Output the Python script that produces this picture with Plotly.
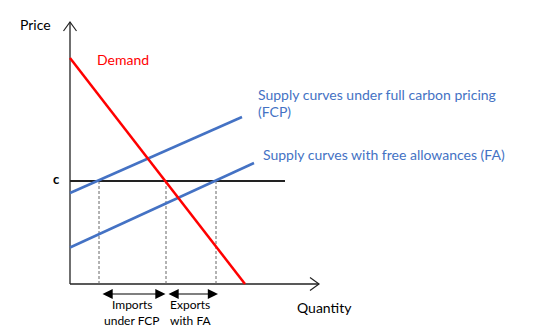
import plotly.graph_objects as go

# ---- data (quantity, price units) ----
demand_q = [0.0, 7.0]
demand_p = [9.04, 0.0]
fcp_q = [0.0, 6.88]
fcp_p = [3.64, 6.68]
fa_q = [0.0, 7.36]
fa_p = [1.46, 4.84]
c_price = 4.12
c_q = [0.0, 8.6]
dashed_q = [1.16, 3.84, 5.84]
axis_x_end = 9.96
axis_y_end = 10.48

W, H = 536, 333
PX = 25.0          # pixels per data unit
X0, Y0 = 70, 284   # pixel position of origin

BLUE = "#4472C4"
RED = "#FF0000"
FONT = "Lato"

fig = go.Figure()

def line(xs, ys, color, width, dash="solid"):
    fig.add_trace(go.Scatter(x=xs, y=ys, mode="lines",
                             line=dict(color=color, width=width, dash=dash),
                             hoverinfo="skip", showlegend=False))

# axes
line([0, 0], [0, axis_y_end], "#222222", 1.3)
line([0, axis_x_end], [0, 0], "#222222", 1.3)
# open arrowheads
line([-0.26, 0, 0.26], [axis_y_end - 0.36, axis_y_end, axis_y_end - 0.36], "#222222", 1.2)
line([axis_x_end - 0.36, axis_x_end, axis_x_end - 0.36], [0.26, 0, -0.26], "#222222", 1.2)

# dashed verticals
for q in dashed_q:
    line([q, q], [0, c_price], "#666666", 1, "3px,2px")

# price line c
line(c_q, [c_price, c_price], "#222222", 2)

# supply curves and demand
line(fcp_q, fcp_p, BLUE, 2.5)
line(fa_q, fa_p, BLUE, 2.5)
line(demand_q, demand_p, RED, 2.5)

annotations = []

def txt(text, px, py, color="black", size=14, xanchor="center"):
    annotations.append(dict(text=text, x=px / W, y=1 - py / H, xref="paper", yref="paper",
                            showarrow=False, xanchor=xanchor, yanchor="middle",
                            font=dict(family=FONT, size=size, color=color)))

# double arrows below x axis
arrow_y = -10 / PX
for a, b in [(dashed_q[0] + 0.08, dashed_q[1] - 0.02), (dashed_q[1] + 0.04, dashed_q[2] + 0.08)]:
    annotations.append(dict(x=b, y=arrow_y, ax=a, ay=arrow_y, xref="x", yref="y",
                            axref="x", ayref="y", showarrow=True, text="",
                            arrowhead=2, startarrowhead=2, arrowside="end+start",
                            arrowsize=1.7, startarrowsize=1.7, arrowwidth=1.2, arrowcolor="black"))

txt("Price", 35, 25)
txt("Quantity", 324, 307)
txt("<b>c</b>", 56, 179, size=13)
txt("Demand", 123, 59, color=RED)
txt("Supply curves under full carbon pricing", 256, 94, color=BLUE, xanchor="left")
txt("(FCP)", 256, 112, color=BLUE, xanchor="left")
txt("Supply curves with free allowances (FA)", 261, 154, color=BLUE, xanchor="left")
txt("Imports", 132, 304, size=12)
txt("under FCP", 132, 320, size=12)
txt("Exports", 190, 304, size=12)
txt("with FA", 190, 320, size=12)

fig.update_layout(
    width=W, height=H,
    margin=dict(l=0, r=0, t=0, b=0),
    paper_bgcolor="white", plot_bgcolor="white",
    xaxis=dict(range=[-X0 / PX, (W - X0) / PX], visible=False, fixedrange=True),
    yaxis=dict(range=[(Y0 - H) / PX, Y0 / PX], visible=False, fixedrange=True),
    annotations=annotations,
    showlegend=False,
)

fig.write_html("out.html")
